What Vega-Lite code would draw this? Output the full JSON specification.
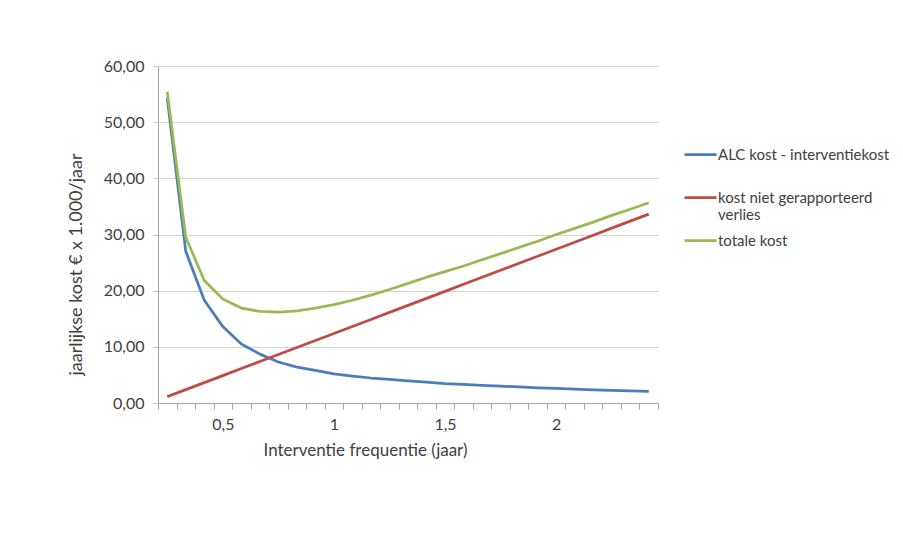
{
  "$schema": "https://vega.github.io/schema/vega-lite/v6.json",
  "width": 500,
  "height": 337,
  "autosize": {"type": "none"},
  "padding": {"left": 158, "top": 66, "right": 245, "bottom": 143},
  "background": "white",
  "config": {"view": {"stroke": null}, "font": "Lato"},
  "data": {
    "values": [
      {"T": 0.25, "serie": "ALC kost - interventiekost", "kost": 54.3},
      {"T": 0.3333, "serie": "ALC kost - interventiekost", "kost": 27.0},
      {"T": 0.4167, "serie": "ALC kost - interventiekost", "kost": 18.3},
      {"T": 0.5, "serie": "ALC kost - interventiekost", "kost": 13.6},
      {"T": 0.5833, "serie": "ALC kost - interventiekost", "kost": 10.5},
      {"T": 0.6667, "serie": "ALC kost - interventiekost", "kost": 8.7},
      {"T": 0.75, "serie": "ALC kost - interventiekost", "kost": 7.3},
      {"T": 0.8333, "serie": "ALC kost - interventiekost", "kost": 6.4},
      {"T": 0.9167, "serie": "ALC kost - interventiekost", "kost": 5.8},
      {"T": 1.0, "serie": "ALC kost - interventiekost", "kost": 5.2},
      {"T": 1.0833, "serie": "ALC kost - interventiekost", "kost": 4.8},
      {"T": 1.1667, "serie": "ALC kost - interventiekost", "kost": 4.45},
      {"T": 1.25, "serie": "ALC kost - interventiekost", "kost": 4.2},
      {"T": 1.3333, "serie": "ALC kost - interventiekost", "kost": 3.95},
      {"T": 1.4167, "serie": "ALC kost - interventiekost", "kost": 3.7},
      {"T": 1.5, "serie": "ALC kost - interventiekost", "kost": 3.45},
      {"T": 1.5833, "serie": "ALC kost - interventiekost", "kost": 3.3},
      {"T": 1.6667, "serie": "ALC kost - interventiekost", "kost": 3.15},
      {"T": 1.75, "serie": "ALC kost - interventiekost", "kost": 3.0},
      {"T": 1.8333, "serie": "ALC kost - interventiekost", "kost": 2.85},
      {"T": 1.9167, "serie": "ALC kost - interventiekost", "kost": 2.7},
      {"T": 2.0, "serie": "ALC kost - interventiekost", "kost": 2.6},
      {"T": 2.0833, "serie": "ALC kost - interventiekost", "kost": 2.45},
      {"T": 2.1667, "serie": "ALC kost - interventiekost", "kost": 2.35},
      {"T": 2.25, "serie": "ALC kost - interventiekost", "kost": 2.25},
      {"T": 2.3333, "serie": "ALC kost - interventiekost", "kost": 2.15},
      {"T": 2.4167, "serie": "ALC kost - interventiekost", "kost": 2.05},
      {"T": 0.25, "serie": "kost niet gerapporteerd verlies", "kost": 1.13},
      {"T": 0.3333, "serie": "kost niet gerapporteerd verlies", "kost": 2.38},
      {"T": 0.4167, "serie": "kost niet gerapporteerd verlies", "kost": 3.63},
      {"T": 0.5, "serie": "kost niet gerapporteerd verlies", "kost": 4.88},
      {"T": 0.5833, "serie": "kost niet gerapporteerd verlies", "kost": 6.13},
      {"T": 0.6667, "serie": "kost niet gerapporteerd verlies", "kost": 7.38},
      {"T": 0.75, "serie": "kost niet gerapporteerd verlies", "kost": 8.63},
      {"T": 0.8333, "serie": "kost niet gerapporteerd verlies", "kost": 9.88},
      {"T": 0.9167, "serie": "kost niet gerapporteerd verlies", "kost": 11.13},
      {"T": 1.0, "serie": "kost niet gerapporteerd verlies", "kost": 12.38},
      {"T": 1.0833, "serie": "kost niet gerapporteerd verlies", "kost": 13.63},
      {"T": 1.1667, "serie": "kost niet gerapporteerd verlies", "kost": 14.88},
      {"T": 1.25, "serie": "kost niet gerapporteerd verlies", "kost": 16.13},
      {"T": 1.3333, "serie": "kost niet gerapporteerd verlies", "kost": 17.38},
      {"T": 1.4167, "serie": "kost niet gerapporteerd verlies", "kost": 18.63},
      {"T": 1.5, "serie": "kost niet gerapporteerd verlies", "kost": 19.88},
      {"T": 1.5833, "serie": "kost niet gerapporteerd verlies", "kost": 21.13},
      {"T": 1.6667, "serie": "kost niet gerapporteerd verlies", "kost": 22.38},
      {"T": 1.75, "serie": "kost niet gerapporteerd verlies", "kost": 23.63},
      {"T": 1.8333, "serie": "kost niet gerapporteerd verlies", "kost": 24.88},
      {"T": 1.9167, "serie": "kost niet gerapporteerd verlies", "kost": 26.13},
      {"T": 2.0, "serie": "kost niet gerapporteerd verlies", "kost": 27.38},
      {"T": 2.0833, "serie": "kost niet gerapporteerd verlies", "kost": 28.63},
      {"T": 2.1667, "serie": "kost niet gerapporteerd verlies", "kost": 29.88},
      {"T": 2.25, "serie": "kost niet gerapporteerd verlies", "kost": 31.13},
      {"T": 2.3333, "serie": "kost niet gerapporteerd verlies", "kost": 32.38},
      {"T": 2.4167, "serie": "kost niet gerapporteerd verlies", "kost": 33.63},
      {"T": 0.25, "serie": "totale kost", "kost": 55.4},
      {"T": 0.3333, "serie": "totale kost", "kost": 29.5},
      {"T": 0.4167, "serie": "totale kost", "kost": 21.8},
      {"T": 0.5, "serie": "totale kost", "kost": 18.5},
      {"T": 0.5833, "serie": "totale kost", "kost": 16.9},
      {"T": 0.6667, "serie": "totale kost", "kost": 16.3},
      {"T": 0.75, "serie": "totale kost", "kost": 16.2},
      {"T": 0.8333, "serie": "totale kost", "kost": 16.4},
      {"T": 0.9167, "serie": "totale kost", "kost": 16.9},
      {"T": 1.0, "serie": "totale kost", "kost": 17.5},
      {"T": 1.0833, "serie": "totale kost", "kost": 18.3},
      {"T": 1.1667, "serie": "totale kost", "kost": 19.2},
      {"T": 1.25, "serie": "totale kost", "kost": 20.2},
      {"T": 1.3333, "serie": "totale kost", "kost": 21.3},
      {"T": 1.4167, "serie": "totale kost", "kost": 22.4},
      {"T": 1.5, "serie": "totale kost", "kost": 23.4},
      {"T": 1.5833, "serie": "totale kost", "kost": 24.4},
      {"T": 1.6667, "serie": "totale kost", "kost": 25.5},
      {"T": 1.75, "serie": "totale kost", "kost": 26.6},
      {"T": 1.8333, "serie": "totale kost", "kost": 27.7},
      {"T": 1.9167, "serie": "totale kost", "kost": 28.8},
      {"T": 2.0, "serie": "totale kost", "kost": 30.0},
      {"T": 2.0833, "serie": "totale kost", "kost": 31.1},
      {"T": 2.1667, "serie": "totale kost", "kost": 32.2},
      {"T": 2.25, "serie": "totale kost", "kost": 33.4},
      {"T": 2.3333, "serie": "totale kost", "kost": 34.5},
      {"T": 2.4167, "serie": "totale kost", "kost": 35.65}
    ]
  },
  "mark": {"type": "line", "strokeWidth": 2.75, "strokeJoin": "round"},
  "encoding": {
    "x": {
      "field": "T",
      "type": "quantitative",
      "scale": {"domain": [0.208333, 2.458333], "nice": false, "zero": false},
      "axis": {
        "title": "Interventie frequentie (jaar)",
        "values": [0.208333, 0.291667, 0.375, 0.458333, 0.541667, 0.625, 0.708333, 0.791667, 0.875, 0.958333, 1.041667, 1.125, 1.208333, 1.291667, 1.375, 1.458333, 1.541667, 1.625, 1.708333, 1.791667, 1.875, 1.958333, 2.041667, 2.125, 2.208333, 2.291667, 2.375, 2.458333],
        "labelExpr": "abs(datum.value-0.458333)<0.01 ? '0,5' : abs(datum.value-0.958333)<0.01 ? '1' : abs(datum.value-1.458333)<0.01 ? '1,5' : abs(datum.value-1.958333)<0.01 ? '2' : ''",
        "labelOffset": 9.26,
        "labelOverlap": false,
        "labelFlush": false,
        "labelBound": false,
        "grid": false,
        "domainColor": "#a6a6a6",
        "tickColor": "#a6a6a6",
        "tickSize": 6,
        "labelPadding": 7,
        "labelFontSize": 16,
        "labelColor": "#404040",
        "titleFontSize": 17,
        "titleFontWeight": "normal",
        "titleColor": "#404040",
        "titleX": 207,
        "titleY": 47,
        "titleBaseline": "middle",
        "titleAlign": "center"
      }
    },
    "y": {
      "field": "kost",
      "type": "quantitative",
      "scale": {"domain": [0, 60], "nice": false},
      "axis": {
        "title": "jaarlijkse kost € x 1.000/jaar",
        "values": [0, 10, 20, 30, 40, 50, 60],
        "labelExpr": "replace(format(datum.value, '.2f'), '.', ',')",
        "grid": true,
        "gridColor": "#d4d4d4",
        "gridWidth": 1.2,
        "domainColor": "#a6a6a6",
        "tickColor": "#c8c8c8",
        "tickSize": 5,
        "labelPadding": 9,
        "labelFontSize": 16,
        "labelColor": "#404040",
        "titleFontSize": 18,
        "titleFontWeight": "normal",
        "titleColor": "#404040",
        "titleX": -82,
        "titleY": 198,
        "titleBaseline": "middle",
        "titleAlign": "center"
      }
    },
    "color": {
      "field": "serie",
      "type": "nominal",
      "scale": {
        "domain": ["ALC kost - interventiekost", "kost niet gerapporteerd verlies", "totale kost"],
        "range": ["#4a7ebb", "#be4b48", "#98b954"]
      },
      "legend": {
        "title": null,
        "orient": "none",
        "legendX": 525,
        "legendY": 71,
        "padding": 0,
        "symbolType": "stroke",
        "symbolSize": 1024,
        "symbolStrokeWidth": 2.75,
        "labelFontSize": 15,
        "labelColor": "#404040",
        "labelOffset": 0,
        "labelLimit": 300,
        "rowPadding": 0,
        "labelExpr": "datum.label == 'kost niet gerapporteerd verlies' ? ['kost niet gerapporteerd', 'verlies'] : datum.label == 'ALC kost - interventiekost' ? ['ALC kost - interventiekost', ''] : datum.label"
      }
    }
  }
}
